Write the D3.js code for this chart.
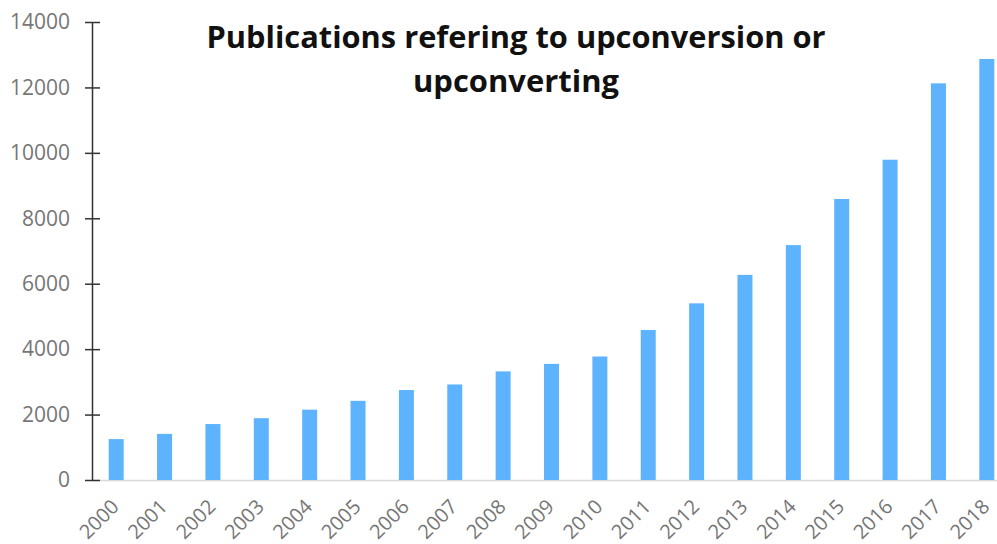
<!DOCTYPE html>
<html>
<head>
<meta charset="utf-8">
<script src="https://cdn.jsdelivr.net/npm/d3@7"></script>
<style>
  body { margin: 0; background: #fff; }
  svg { display: block; }
</style>
</head>
<body>
<script>
var years = ["2000","2001","2002","2003","2004","2005","2006","2007","2008","2009",
             "2010","2011","2012","2013","2014","2015","2016","2017","2018"];
var counts = [1250,1410,1710,1890,2150,2420,2750,2920,3320,3550,
              3775,4585,5400,6270,7180,8590,9790,12125,12870];
var yTicks = [0,2000,4000,6000,8000,10000,12000,14000];
var titleLines = ["Publications refering to upconversion or", "upconverting"];

var w = 997, h = 544;
var x0 = 92, x1 = 1011, yTop = 22, yBase = 480;

var svg = d3.select("body").append("svg")
  .attr("width", w)
  .attr("height", h);

var x = d3.scaleBand()
  .domain(years)
  .range([x0, x1])
  .paddingInner(0.69)
  .paddingOuter(0.345);

var y = d3.scaleLinear()
  .domain([0, 14000])
  .range([yBase, yTop]);

// x baseline
svg.append("line")
  .attr("x1", x0).attr("x2", w)
  .attr("y1", yBase + 0.5).attr("y2", yBase + 0.5)
  .style("stroke", "#d9d9d9")
  .style("stroke-width", 1.5);

// bars
svg.append("g").selectAll("rect")
  .data(counts)
  .enter().append("rect")
  .attr("x", function (d, i) { return x(years[i]); })
  .attr("width", x.bandwidth())
  .attr("y", function (d) { return y(d); })
  .attr("height", function (d) { return yBase - y(d); })
  .style("fill", "#5eb3ff");

// y axis
var yAxis = svg.append("g")
  .attr("transform", "translate(" + x0 + ",0)")
  .call(d3.axisLeft(y).tickValues(yTicks).tickFormat(d3.format("d"))
    .tickSize(7).tickPadding(15).tickSizeOuter(0));
yAxis.select(".domain").style("stroke", "#333").style("stroke-width", 1.5);
yAxis.selectAll(".tick line")
  .attr("x1", -7).attr("x2", 8)
  .style("stroke", "#333").style("stroke-width", 1.5);
yAxis.selectAll(".tick text")
  .attr("x", -22)
  .style("fill", "#767676")
  .style("font-family", "'Open Sans', sans-serif")
  .style("font-size", "21px");

// x labels
svg.append("g").selectAll("text")
  .data(years)
  .enter().append("text")
  .attr("transform", function (d) {
    return "translate(" + (x(d) + x.bandwidth() / 2 - 1) + "," + (yBase + 23) + ") rotate(-45)";
  })
  .attr("text-anchor", "end")
  .attr("dy", "0.35em")
  .style("fill", "#767676")
  .style("font-family", "'Open Sans', sans-serif")
  .style("font-size", "20px")
  .text(function (d) { return d; });

// title
var title = svg.append("g").selectAll("text")
  .data(titleLines)
  .enter().append("text")
  .attr("x", 516)
  .attr("y", function (d, i) { return 48 + i * 44; })
  .attr("text-anchor", "middle")
  .style("font-family", "'Open Sans', sans-serif")
  .style("font-weight", "bold")
  .style("font-size", "30px")
  .style("fill", "#111")
  .text(function (d) { return d; });
var titleWidths = [619, 206];
title.attr("textLength", function (d, i) { return titleWidths[i]; })
  .attr("lengthAdjust", "spacingAndGlyphs");
</script>
</body>
</html>
